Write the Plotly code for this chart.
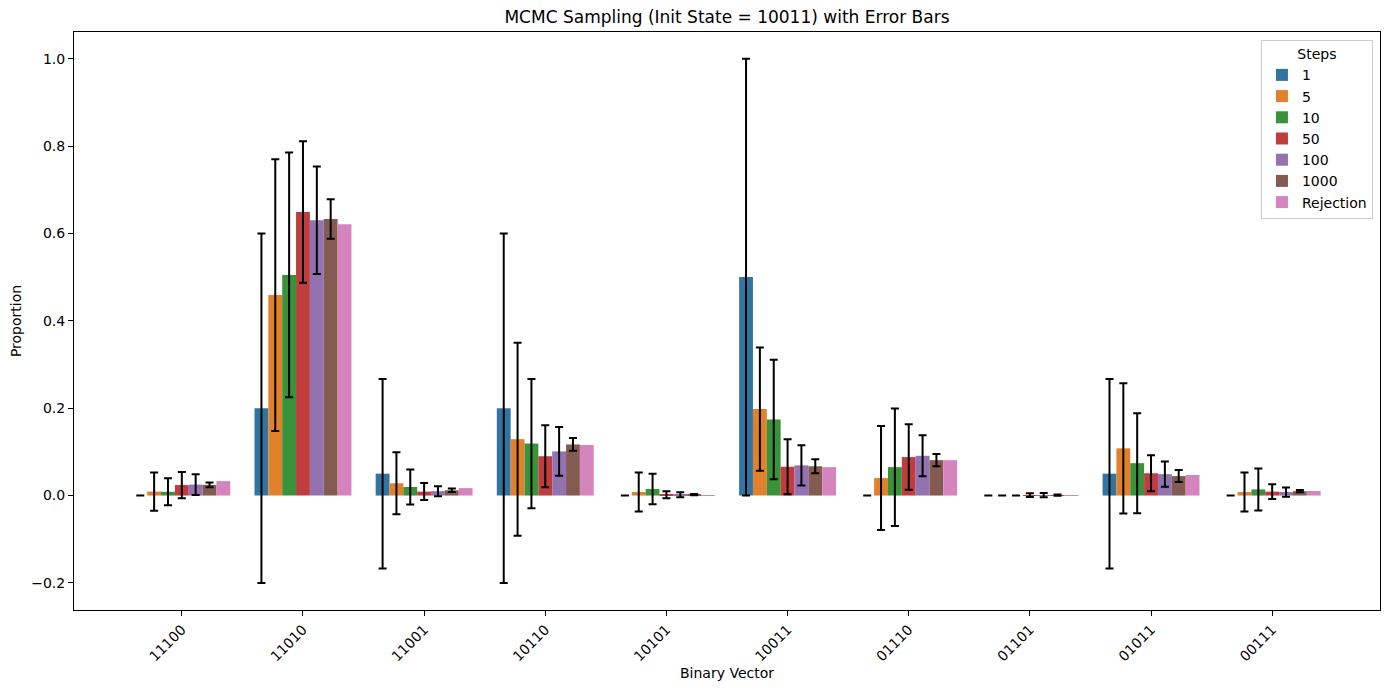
import plotly.graph_objects as go

vectors = ["11100", "11010", "11001", "10110", "10101",
           "10011", "01110", "01101", "01011", "00111"]

step_labels = ["1", "5", "10", "50", "100", "1000", "Rejection"]

step_1 = [0.0, 0.2, 0.05, 0.2, 0.0, 0.5, 0.0, 0.0, 0.05, 0.0]
step_1_err = [0.0, 0.4, 0.217, 0.4, 0.0, 0.5, 0.0, 0.0, 0.217, 0.0]

step_5 = [0.009, 0.459, 0.028, 0.129, 0.008, 0.198, 0.04, 0.0, 0.108, 0.008]
step_5_err = [0.044, 0.311, 0.071, 0.221, 0.0445, 0.141, 0.119, 0.0, 0.149, 0.0445]

step_10 = [0.0085, 0.505, 0.0195, 0.119, 0.015, 0.174, 0.065, 0.0, 0.074, 0.014]
step_10_err = [0.031, 0.28, 0.04, 0.148, 0.035, 0.137, 0.1345, 0.0, 0.1146, 0.048]

step_50 = [0.024, 0.649, 0.009, 0.09, 0.002, 0.066, 0.088, 0.001, 0.051, 0.009]
step_50_err = [0.03, 0.162, 0.0195, 0.0708, 0.008, 0.063, 0.075, 0.0045, 0.041, 0.017]

step_100 = [0.025, 0.63, 0.01, 0.101, 0.002, 0.069, 0.091, 0.001, 0.049, 0.008]
step_100_err = [0.024, 0.123, 0.0115, 0.0557, 0.0057, 0.046, 0.047, 0.005, 0.029, 0.0105]

step_1000 = [0.0245, 0.633, 0.012, 0.117, 0.002, 0.067, 0.081, 0.001, 0.0445, 0.010]
step_1000_err = [0.0055, 0.045, 0.004, 0.0145, 0.0015, 0.016, 0.014, 0.0015, 0.0137, 0.0027]

rejection = [0.033, 0.621, 0.017, 0.1156, 0.001, 0.065, 0.081, 0.001, 0.047, 0.0103]

colors = ["#3274a1", "#e1812c", "#3a923a", "#c03d3e", "#9372b2", "#845b53", "#d684bd"]

series = [
    (step_1, step_1_err),
    (step_5, step_5_err),
    (step_10, step_10_err),
    (step_50, step_50_err),
    (step_100, step_100_err),
    (step_1000, step_1000_err),
    (rejection, None),
]

fig = go.Figure()
for label, color, (values, errors) in zip(step_labels, colors, series):
    err = None
    if errors is not None:
        err = dict(type="data", array=errors, symmetric=True,
                   color="black", thickness=2, width=4)
    fig.add_trace(go.Bar(
        x=vectors, y=values, name=label,
        marker=dict(color=color, line=dict(width=0)),
        error_y=err,
    ))

axis_common = dict(
    showline=True, linecolor="black", linewidth=1, mirror=True,
    ticks="outside", ticklen=5, tickcolor="black", showgrid=False,
    zeroline=False, tickfont=dict(size=14, color="black"), automargin=False,
)

# page body adds an 8px offset, so margins are shifted to compensate
fig.update_layout(
    width=1389, height=690,
    margin=dict(l=66, r=17, t=24, b=88),
    paper_bgcolor="white", plot_bgcolor="white",
    font=dict(family="DejaVu Sans", size=14, color="black"),
    title=dict(text="MCMC Sampling (Init State = 10011) with Error Bars",
               x=(66 + 1372) / 2 / 1389, xanchor="center",
               y=1 - 9 / 690, yanchor="middle",
               font=dict(size=17, color="black")),
    barmode="group", bargap=0.2, bargroupgap=0,
    legend=dict(
        title=dict(text="Steps", side="top center", font=dict(size=14)),
        x=0.9946, xanchor="right", y=0.986, yanchor="top",
        bgcolor="rgba(255,255,255,0.8)", bordercolor="#cccccc", borderwidth=1,
        font=dict(size=14), tracegroupgap=0,
    ),
)
fig.update_xaxes(
    **axis_common, type="category", range=[-0.89, 9.89], tickangle=-45,
    title=dict(text="Binary Vector", font=dict(size=14), standoff=4),
)
fig.update_yaxes(
    **axis_common, range=[-0.262, 1.061], tickvals=[-0.2, 0.0, 0.2, 0.4, 0.6, 0.8, 1.0],
    tickformat=".1f",
    title=dict(text="Proportion", font=dict(size=14), standoff=8),
)

fig.write_html("out.html")
